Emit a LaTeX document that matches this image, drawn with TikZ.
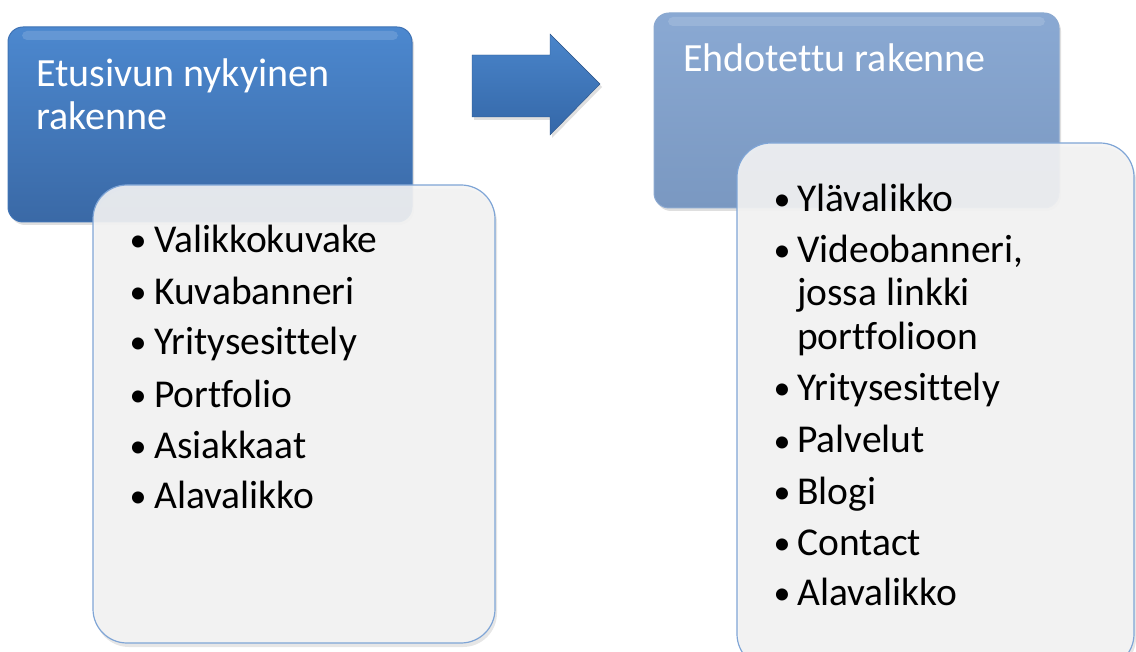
\documentclass[tikz,border=0pt]{standalone}
\usepackage{fontspec}
\setmainfont{Carlito}[Ligatures={NoCommon}]
\usetikzlibrary{shadows}
\definecolor{lbtop}{HTML}{4C88CF}
\definecolor{lbbot}{HTML}{3A69A6}
\definecolor{lbedge}{HTML}{3F73B5}
\definecolor{rbtop}{HTML}{8AA9D3}
\definecolor{rbbot}{HTML}{7A98C1}
\definecolor{rbedge}{HTML}{8CA9D0}
\definecolor{wbfill}{HTML}{F4F4F4}
\definecolor{wbedge}{HTML}{7FA5D6}
\definecolor{artop}{HTML}{4A85CA}
\definecolor{arbot}{HTML}{3467A8}
\tikzset{
  titlebox/.style={rounded corners=15pt, drop shadow={shadow xshift=2pt, shadow yshift=-3pt, opacity=0.25}},
  listbox/.style={rounded corners=34pt, fill=wbfill, fill opacity=0.9, draw=wbedge, line width=1.2pt,
     drop shadow={shadow xshift=2pt, shadow yshift=-4pt, opacity=0.2}},
  titletext/.style={anchor=base west, inner sep=0pt, text=white, font=\fontsize{40}{46}\selectfont},
  itemtext/.style={anchor=base west, inner sep=0pt, text=black, font=\fontsize{39.5}{46}\selectfont},
}
\newcommand{\bulL}{\makebox[24.5pt][l]{\fontsize{34}{34}\selectfont\raisebox{1pt}{•}}}
\newcommand{\bulR}{\makebox[23.5pt][l]{\fontsize{34}{34}\selectfont\raisebox{1pt}{•}}}
\begin{document}
\begin{tikzpicture}[x=1pt,y=-1pt]
\useasboundingbox (0,0) rectangle (1136,652);
% left title box
\draw[titlebox, top color=lbtop, bottom color=lbbot, draw=lbedge, line width=1pt] (8,27) rectangle (412,222);
\fill[white, opacity=0.14, rounded corners=5pt] (22,31) rectangle (398,40);
% arrow
\draw[top color=artop, bottom color=arbot, draw=arbot!80!black, line width=0.4pt,
      drop shadow={shadow xshift=2pt, shadow yshift=-3pt, opacity=0.25}]
  (472,55) -- (550,55) -- (550,34) -- (600,84) -- (550,135) -- (550,117) -- (472,117) -- cycle;
% right title box
\draw[titlebox, top color=rbtop, bottom color=rbbot, draw=rbedge, line width=1pt] (654,13) rectangle (1059,208);
\fill[white, opacity=0.14, rounded corners=5pt] (668,17) rectangle (1045,26);
% list boxes
\draw[listbox] (93,185) rectangle (495,643);
\draw[listbox] (737,143) rectangle (1134,668);
% titles
\node[titletext] (t1a) at (36,87) {Etusivun nykyinen};
\node[titletext] (t1b) at (36,130) {rakenne};
\node[titletext] (t2) at (683,72) {Ehdotettu rakenne};
% left items
\node[itemtext] (i1) at (129.5,253) {\bulL Valikkokuvake};
\node[itemtext] (i2) at (129.5,305) {\bulL Kuvabanneri};
\node[itemtext] (i3) at (129.5,355) {\bulL Yritysesittely};
\node[itemtext] (i4) at (129.5,407) {\bulL Portfolio};
\node[itemtext] (i5) at (129.5,458) {\bulL Asiakkaat};
\node[itemtext] (i6) at (129.5,508) {\bulL Alavalikko};
% right items
\node[itemtext] (j1) at (773.5,212) {\bulR Ylävalikko};
\node[itemtext] (j2) at (773.5,263) {\bulR Videobanneri,};
\node[itemtext] (j2b) at (797,306) {jossa linkki};
\node[itemtext] (j2c) at (797,350) {portfolioon};
\node[itemtext] (j3) at (773.5,401) {\bulR Yritysesittely};
\node[itemtext] (j4) at (773.5,453) {\bulR Palvelut};
\node[itemtext] (j5) at (773.5,504) {\bulR Blogi};
\node[itemtext] (j6) at (773.5,555) {\bulR Contact};
\node[itemtext] (j7) at (773.5,605) {\bulR Alavalikko};
\end{tikzpicture}
\end{document}
